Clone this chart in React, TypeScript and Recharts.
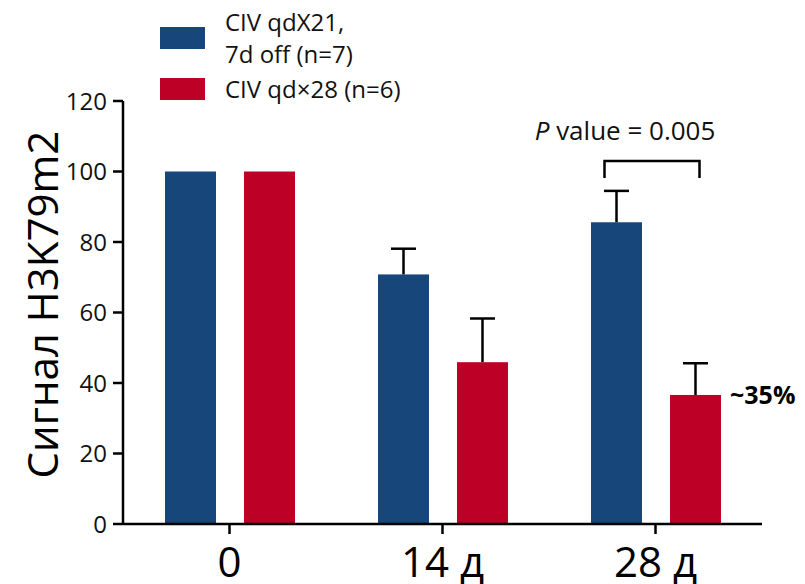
import React from 'react';
import { BarChart, Bar, XAxis, YAxis, Label } from 'recharts';

// groups on the x axis and the two treatment arms
const categories = ['0', '14 д', '28 д'];
const seriesNames = ['CIV qdX21,\n7d off (n=7)', 'CIV qd×28 (n=6)'];
const intermittentMeans = [100, 70.8, 85.6];
const intermittentErr = [0, 7.3, 8.9];
const continuousMeans = [100, 45.9, 36.6];
const continuousErr = [0, 12.4, 9.0];
const pValues = ['', '', '0.005'];
const reductions = ['', '', '~35%'];
const yTicks = [0, 20, 40, 60, 80, 100, 120];

const BLUE = '#16467a';
const RED = '#bc0026';
const COLORS = [BLUE, RED];
const FONT = '"Open Sans", "Noto Sans", sans-serif';
const BAR_GAP = 28;
const STROKE = 2.5;

const data = categories.map((group, i) => ({
  group,
  intermittent: intermittentMeans[i],
  intermittentErr: intermittentErr[i],
  continuous: continuousMeans[i],
  continuousErr: continuousErr[i],
  pValue: pValues[i],
  reduction: reductions[i],
}));

const Whisker = ({ cx, top, len }: { cx: number; top: number; len: number }) => (
  <g stroke="#000" strokeWidth={STROKE}>
    <line x1={cx} x2={cx} y1={top} y2={top - len} />
    <line x1={cx - 12.5} x2={cx + 12.5} y1={top - len} y2={top - len} />
  </g>
);

const IntermittentBar = (props: any) => {
  const { x, y, width, height, fill, payload } = props;
  const k = height / payload.intermittent;
  return (
    <g>
      <rect x={x} y={y} width={width} height={height} fill={fill} />
      {payload.intermittentErr > 0 && (
        <Whisker cx={x + width / 2} top={y} len={payload.intermittentErr * k} />
      )}
    </g>
  );
};

const ContinuousBar = (props: any) => {
  const { x, y, width, height, fill, payload } = props;
  const k = height / payload.continuous;
  const base = y + height;
  const cx = x + width / 2;
  const blueCx = cx - width - BAR_GAP;
  const blueTop = base - (payload.intermittent + payload.intermittentErr) * k;
  const left = blueCx - 12;
  const right = cx + 4;
  const bracketTop = blueTop - 30;
  return (
    <g>
      <rect x={x} y={y} width={width} height={height} fill={fill} />
      {payload.continuousErr > 0 && (
        <Whisker cx={cx} top={y} len={payload.continuousErr * k} />
      )}
      {payload.pValue && (
        <g>
          <polyline
            points={`${left},${blueTop - 13} ${left},${bracketTop} ${right},${bracketTop} ${right},${blueTop - 13}`}
            fill="none"
            stroke="#000"
            strokeWidth={STROKE}
          />
          <text
            x={(left + right) / 2 - 27}
            y={bracketTop - 21}
            textAnchor="middle"
            fontFamily={FONT}
            fontSize={26}
            fill="#111"
          >
            <tspan fontStyle="italic">P</tspan> value = {payload.pValue}
          </text>
        </g>
      )}
      {payload.reduction && (
        <text
          x={x + width + 9}
          y={y + 9}
          fontFamily={FONT}
          fontSize={25}
          fontWeight="bold"
          fill="#000"
        >
          {payload.reduction}
        </text>
      )}
    </g>
  );
};

const YTitle = ({ viewBox }: any) => {
  const cy = viewBox.y + viewBox.height / 2 - 8;
  return (
    <text
      x={41}
      y={cy}
      transform={`rotate(-90, 41, ${cy})`}
      textAnchor="middle"
      dominantBaseline="central"
      fontFamily={FONT}
      fontSize={42}
      fill="#000"
    >
      Сигнал H3K79m2
    </text>
  );
};

// legend sits over the top-left of the chart
const LegendBox = () => (
  <div
    style={{
      position: 'absolute',
      left: 160,
      top: 6,
      fontFamily: FONT,
      fontSize: 24,
      color: '#111',
      lineHeight: '32px',
    }}
  >
    {seriesNames.map((name, i) => (
      <div
        key={name}
        style={{ display: 'flex', alignItems: 'center', height: i === 0 ? 64 : 32, marginBottom: 3 }}
      >
        <span style={{ width: 45, height: 22, background: COLORS[i], marginRight: 20, flex: 'none' }} />
        <span style={{ whiteSpace: 'pre-line' }}>{name}</span>
      </div>
    ))}
  </div>
);

export default function App() {
  return (
    <div style={{ position: 'absolute', left: 0, top: 0, width: 805, height: 584, background: '#fff' }}>
      <BarChart
        width={805}
        height={584}
        data={data}
        margin={{ top: 101, right: 43, bottom: 0, left: 0 }}
        barCategoryGap={42}
        barGap={BAR_GAP}
      >
        <XAxis
          dataKey="group"
          height={60}
          axisLine={{ stroke: '#000', strokeWidth: STROKE }}
          tickLine={{ stroke: '#000', strokeWidth: STROKE }}
          tickSize={10}
          tickMargin={13}
          tick={{ fontFamily: FONT, fontSize: 42, fill: '#000' }}
        />
        <YAxis
          width={123}
          domain={[0, 120]}
          ticks={yTicks}
          axisLine={{ stroke: '#000', strokeWidth: STROKE }}
          tickLine={{ stroke: '#000', strokeWidth: STROKE }}
          tickSize={10}
          tickMargin={6}
          tick={{ fontFamily: FONT, fontSize: 24, fill: '#111' }}
        >
          <Label content={<YTitle />} />
        </YAxis>
        <Bar
          dataKey="intermittent"
          name={seriesNames[0]}
          fill={BLUE}
          shape={<IntermittentBar />}
          isAnimationActive={false}
        />
        <Bar
          dataKey="continuous"
          name={seriesNames[1]}
          fill={RED}
          shape={<ContinuousBar />}
          isAnimationActive={false}
        />
      </BarChart>
      <LegendBox />
    </div>
  );
}
